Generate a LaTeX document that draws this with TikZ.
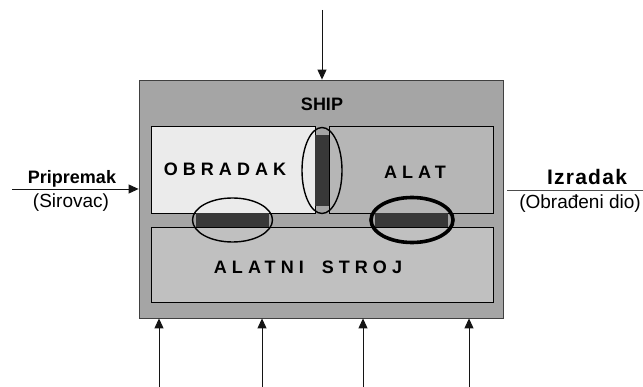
\documentclass[tikz,border=0pt]{standalone}
\usepackage{fontspec}
\setmainfont{Liberation Sans}
\newfontfamily\spacedfont[LetterSpace=28]{Liberation Sans}
\newfontfamily\looserfont[LetterSpace=6]{Liberation Sans}
\usetikzlibrary{arrows.meta,shapes.geometric}

\definecolor{shipgray}{RGB}{165,165,165}
\definecolor{workgray}{RGB}{235,235,235}
\definecolor{toolgray}{RGB}{182,182,182}
\definecolor{machgray}{RGB}{192,192,192}
\definecolor{bargray}{RGB}{56,56,56}
\definecolor{inkgray}{RGB}{20,20,20}

\begin{document}
\begin{tikzpicture}[x=1pt,y=-1pt,
  panel/.style={rectangle, draw=black, line width=0.8pt, inner sep=0pt},
  contact/.style={rectangle, fill=bargray, inner sep=0pt},
  ring/.style={ellipse, draw=black, line width=1.4pt, inner sep=0pt},
  flow/.style={draw=inkgray, line width=0.9pt, -{Triangle[length=10pt,width=9pt]}},
  plain/.style={draw=black!70, line width=0.9pt},
  label/.style={anchor=base, inner sep=0pt, font=\fontsize{19}{21}\selectfont},
  title/.style={label, font=\fontsize{18}{20}\selectfont\bfseries},
  wide/.style={anchor=base, inner sep=0pt, font=\fontsize{18}{20}\selectfont\spacedfont\bfseries}]
\useasboundingbox (0,0) rectangle (643,387);

% system boundary and its three components
\node[panel, draw=black!75, fill=shipgray, minimum width=364pt, minimum height=238pt] (ship) at (321,199) {};
\node[panel, fill=workgray, minimum width=164pt, minimum height=87pt] (work) at (233,169.5) {};
\node[panel, fill=toolgray, minimum width=164pt, minimum height=87pt] (tool) at (411,169.5) {};
\node[panel, fill=machgray, minimum width=342pt, minimum height=75pt] (mach) at (322,264.5) {};

% contact zones between the components
\node[contact, minimum width=14pt, minimum height=71pt] (vbar) at (322,170.5) {};
\node[contact, minimum width=73pt, minimum height=14pt] (lbar) at (232.5,220) {};
\node[contact, minimum width=73pt, minimum height=14pt] (rbar) at (411.5,220) {};

\node[ring, minimum width=40pt, minimum height=86pt] (vring) at (vbar) {};
\node[ring, minimum width=80pt, minimum height=44pt] (lring) at (lbar) {};
\node[ring, line width=3.6pt, minimum width=82pt, minimum height=45pt] (rring) at (412,220) {};

% texts
\node[title] (shiplbl) at (322,111) {SHIP};
\node[wide] (worklbl) at (225,176) {OBRADAK};
\node[wide] (toollbl) at (415,179) {ALAT};
\node[wide] (machlbl) at (308,274) {ALATNI\hspace{8pt} STROJ};

\node[title] (inlbl) at (72,184) {Pripremak};
\node[label] (insub) at (71,208) {(Sirovac)};
\node[title, font=\fontsize{21}{23}\selectfont\looserfont\bfseries] (outlbl) at (587,185) {Izradak};
\node[label] (outsub) at (580,209) {(Obrađeni dio)};

% input, output and supply connectors
\coordinate (topin) at (322,10);
\draw[flow] (topin) -- (topin |- ship.north);

\coordinate (rawin) at (12,189);
\draw[flow] (rawin) -- (rawin -| ship.west);

\coordinate (prodfrom) at (507,190);
\coordinate (prodto) at (643,190);
\draw[plain] (prodfrom) -- (prodto);

\coordinate (sup1) at (159,387);
\coordinate (sup2) at (262,387);
\coordinate (sup3) at (363,387);
\coordinate (sup4) at (469,387);
\foreach \s in {sup1,sup2,sup3,sup4}
  \draw[flow] (\s) -- (\s |- ship.south);
\end{tikzpicture}
\end{document}
